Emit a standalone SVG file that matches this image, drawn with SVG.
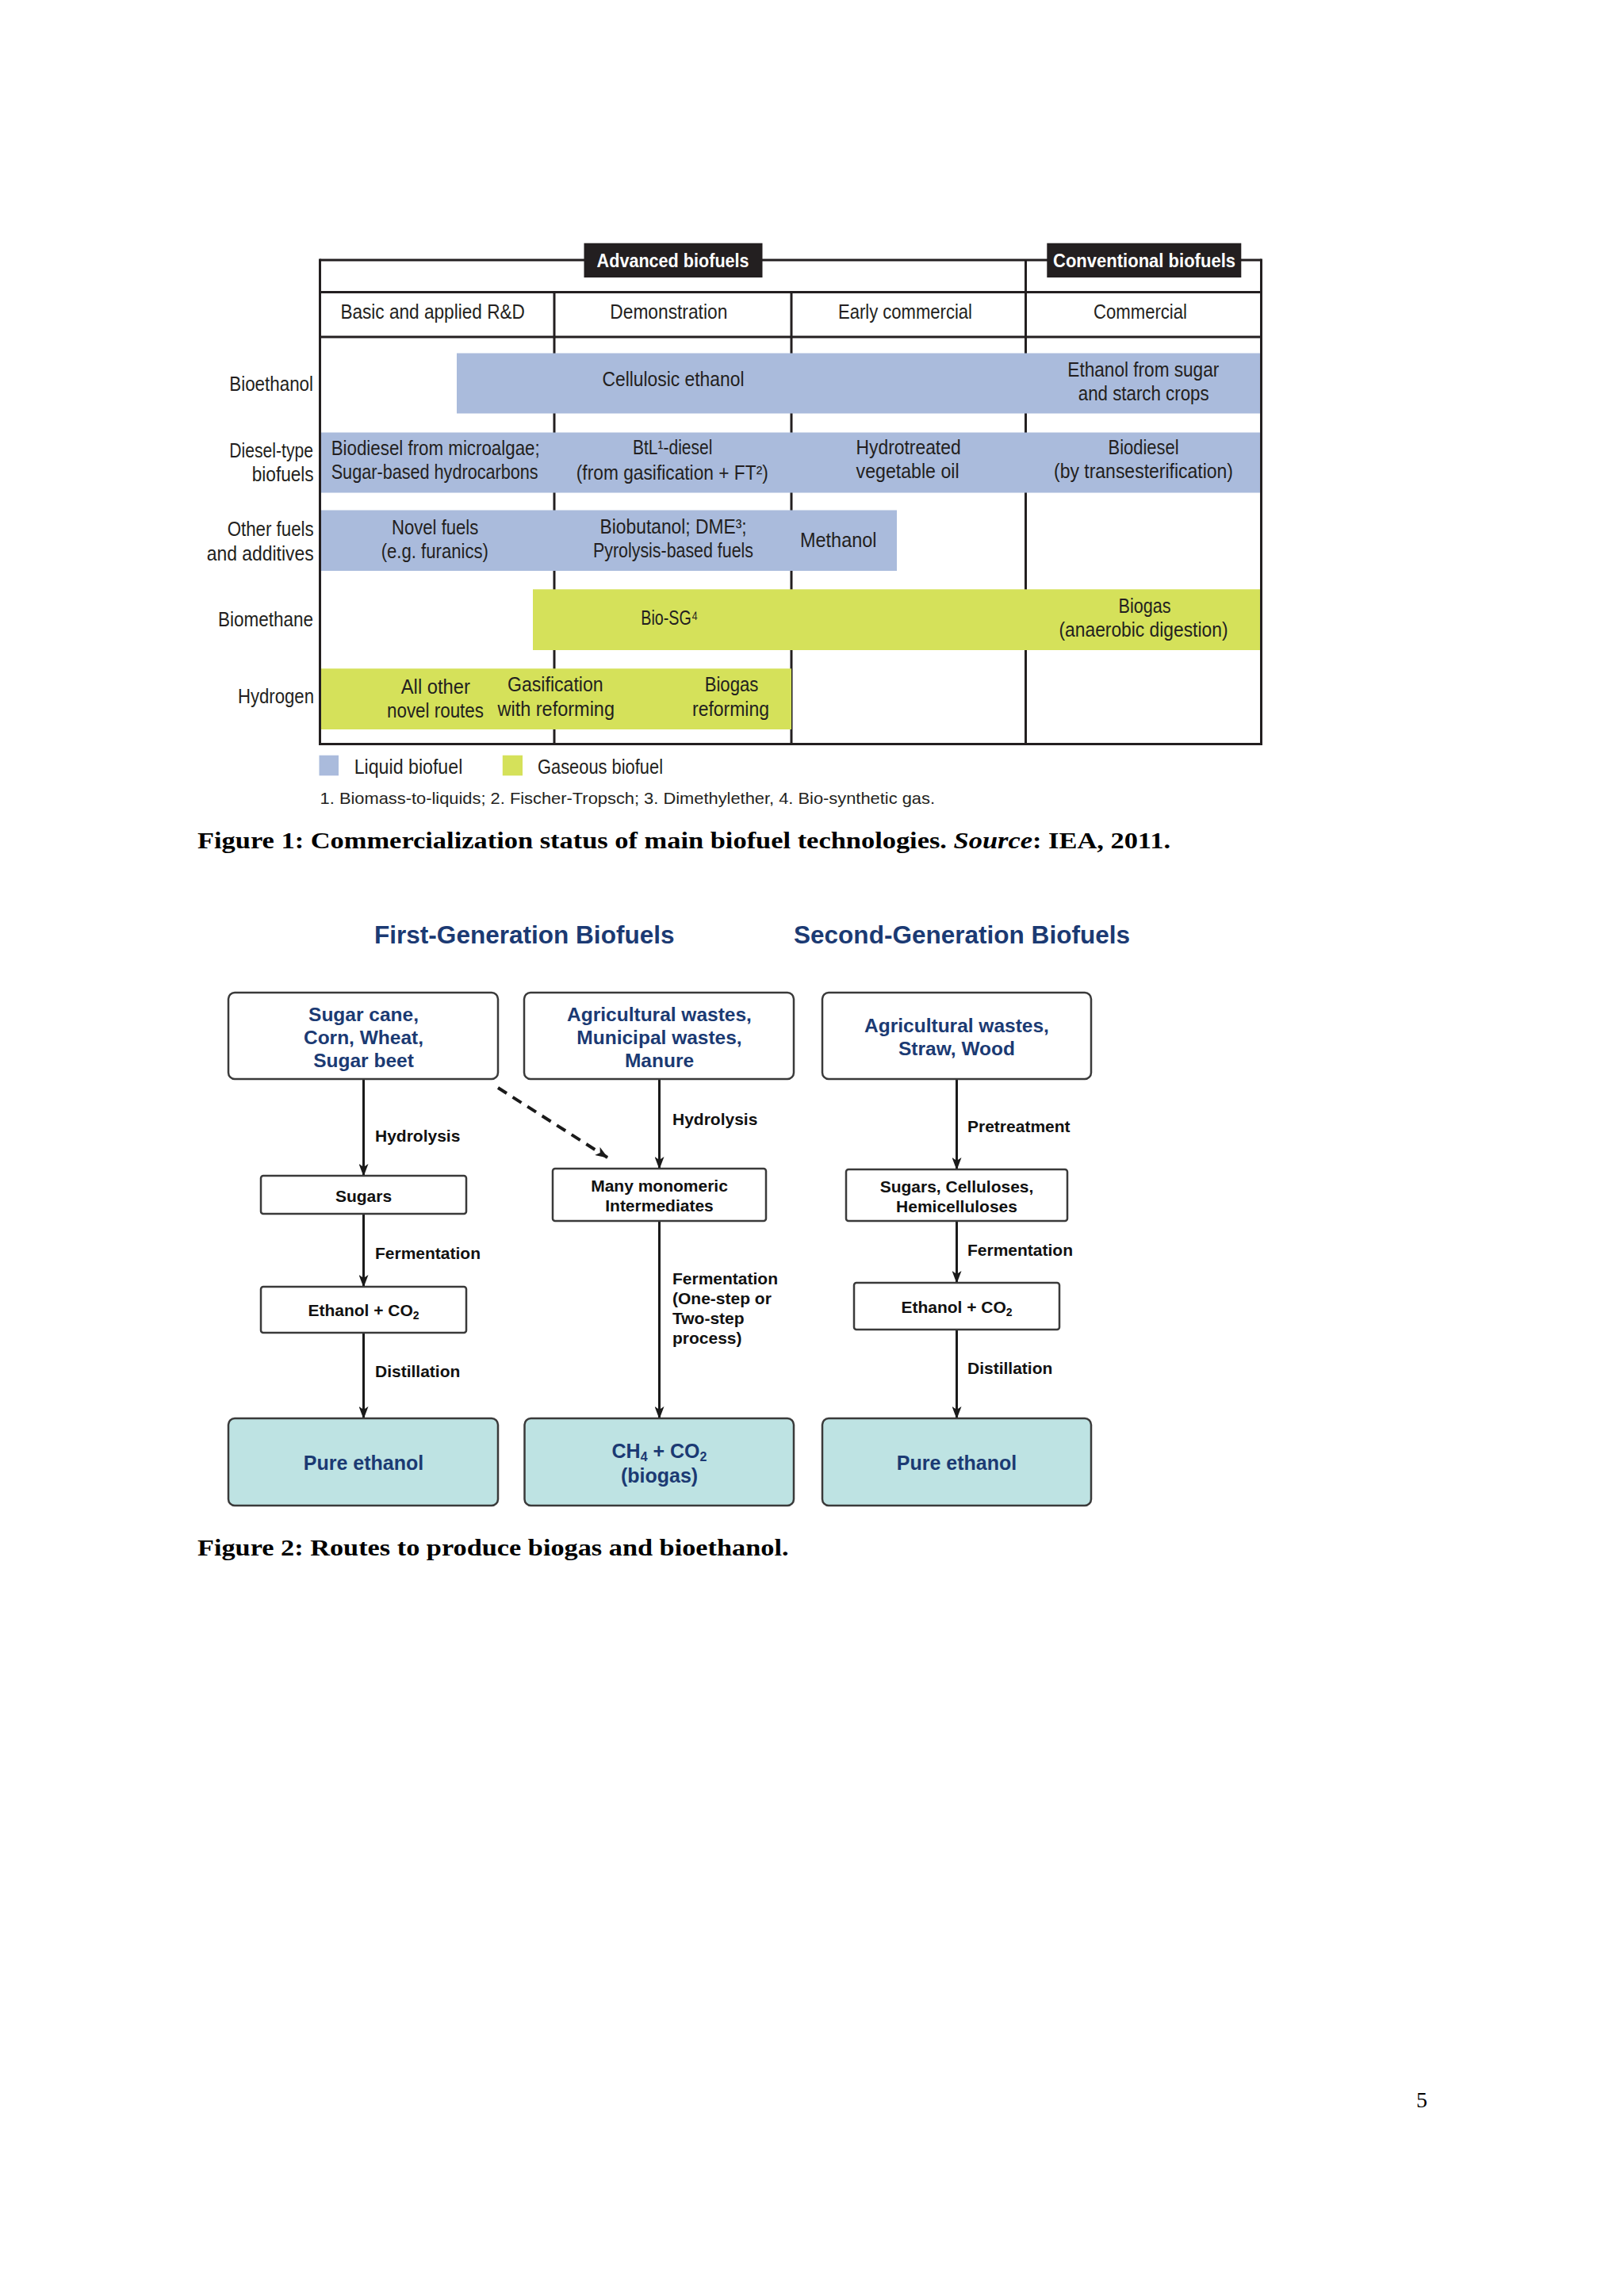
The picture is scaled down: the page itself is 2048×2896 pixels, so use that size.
<svg xmlns="http://www.w3.org/2000/svg" width="2048" height="2896" viewBox="0 0 2048 2896">
<defs>
<style>
.t{font-family:"Liberation Sans",Arial,sans-serif;font-size:25px;fill:#231f20}
.fn{font-family:"Liberation Sans",Arial,sans-serif;font-size:21px;fill:#231f20}
.lb{font-family:"Liberation Sans",Arial,sans-serif;font-size:24px;font-weight:bold;fill:#ffffff}
.ln{stroke:#231f20;stroke-width:3;fill:none}
.liq{fill:#aabbdc}
.gas{fill:#d5e15a}
.cap{font-family:"Liberation Serif","Times New Roman",Times,serif;font-size:30px;font-weight:bold;fill:#000}
.ttl{font-family:"Liberation Sans",Arial,sans-serif;font-size:31.5px;font-weight:bold;fill:#1b3a73}
.nb{font-family:"Liberation Sans",Arial,sans-serif;font-size:24.5px;font-weight:bold;fill:#1b3a73;text-anchor:middle}
.nk{font-family:"Liberation Sans",Arial,sans-serif;font-size:21px;font-weight:bold;fill:#111;text-anchor:middle}
.nr{font-family:"Liberation Sans",Arial,sans-serif;font-size:25px;font-weight:bold;fill:#1b3a73;text-anchor:middle}
.el{font-family:"Liberation Sans",Arial,sans-serif;font-size:21px;font-weight:bold;fill:#111}
.box{fill:#fff;stroke:#3a3a3a;stroke-width:2.5}
.res{fill:#bee3e3;stroke:#3a3a3a;stroke-width:2.5}
.arr{stroke:#1a1a1a;stroke-width:3;fill:none}
.dash{stroke:#1a1a1a;stroke-width:4;fill:none;stroke-dasharray:13 9}
</style>
<marker id="ah" markerUnits="userSpaceOnUse" viewBox="0 0 16 12" refX="15" refY="6" markerWidth="16" markerHeight="12" orient="auto">
<path d="M0,0 L16,6 L0,12 L4,6 z" fill="#1a1a1a"/>
</marker>
</defs>
<rect x="0" y="0" width="2048" height="2896" fill="#ffffff"/>

<!-- ================= FIGURE 1 ================= -->
<g id="fig1-grid">
<line class="ln" x1="403.5" y1="328" x2="1590.5" y2="328"/>
<line class="ln" x1="403.5" y1="368.5" x2="1590.5" y2="368.5"/>
<line class="ln" x1="403.5" y1="425" x2="1590.5" y2="425"/>
<line class="ln" x1="699" y1="368.5" x2="699" y2="938.5"/>
<line class="ln" x1="998" y1="368.5" x2="998" y2="938.5"/>
<line class="ln" x1="1293.5" y1="328" x2="1293.5" y2="938.5"/>
</g>

<g id="fig1-headers">
<text class="t" x="429.4" y="401.7" textLength="232.5" lengthAdjust="spacingAndGlyphs">Basic and applied R&amp;D</text>
<text class="t" x="769.3" y="401.7" textLength="148" lengthAdjust="spacingAndGlyphs">Demonstration</text>
<text class="t" x="1057" y="401.7" textLength="169" lengthAdjust="spacingAndGlyphs">Early commercial</text>
<text class="t" x="1379" y="401.7" textLength="118" lengthAdjust="spacingAndGlyphs">Commercial</text>
</g>

<g id="fig1-rowlabels">
<text class="t" x="289.3" y="492.7" textLength="105.7" lengthAdjust="spacingAndGlyphs">Bioethanol</text>
<text class="t" x="289.3" y="576.7" textLength="105.7" lengthAdjust="spacingAndGlyphs">Diesel-type</text>
<text class="t" x="317.7" y="606.7" textLength="78" lengthAdjust="spacingAndGlyphs">biofuels</text>
<text class="t" x="286.7" y="676" textLength="109" lengthAdjust="spacingAndGlyphs">Other fuels</text>
<text class="t" x="260.7" y="706.7" textLength="135" lengthAdjust="spacingAndGlyphs">and additives</text>
<text class="t" x="275" y="790" textLength="120" lengthAdjust="spacingAndGlyphs">Biomethane</text>
<text class="t" x="300" y="886.7" textLength="96" lengthAdjust="spacingAndGlyphs">Hydrogen</text>
</g>

<g id="row-bioethanol">
<rect class="liq" x="576" y="445.5" width="1013" height="76"/>
<text class="t" x="759.5" y="487.3" textLength="179" lengthAdjust="spacingAndGlyphs">Cellulosic ethanol</text>
<text class="t" x="1346.3" y="475" textLength="191" lengthAdjust="spacingAndGlyphs">Ethanol from sugar</text>
<text class="t" x="1359.8" y="505" textLength="164.8" lengthAdjust="spacingAndGlyphs">and starch crops</text>
</g>

<g id="row-diesel">
<rect class="liq" x="405" y="545.5" width="1184" height="76"/>
<text class="t" x="417.7" y="574" textLength="263" lengthAdjust="spacingAndGlyphs">Biodiesel from microalgae;</text>
<text class="t" x="417.7" y="604" textLength="261" lengthAdjust="spacingAndGlyphs">Sugar-based hydrocarbons</text>
<text class="t" x="798" y="573.3" textLength="100.4" lengthAdjust="spacingAndGlyphs">BtL¹-diesel</text>
<text class="t" x="726.8" y="605" textLength="242" lengthAdjust="spacingAndGlyphs">(from gasification + FT²)</text>
<text class="t" x="1079.6" y="573.3" textLength="132" lengthAdjust="spacingAndGlyphs">Hydrotreated</text>
<text class="t" x="1079.6" y="603.3" textLength="130" lengthAdjust="spacingAndGlyphs">vegetable oil</text>
<text class="t" x="1397.5" y="573.3" textLength="89" lengthAdjust="spacingAndGlyphs">Biodiesel</text>
<text class="t" x="1329" y="603.3" textLength="226" lengthAdjust="spacingAndGlyphs">(by transesterification)</text>
</g>

<g id="row-other">
<rect class="liq" x="405" y="643.5" width="726" height="76.5"/>
<text class="t" x="494" y="674" textLength="109.3" lengthAdjust="spacingAndGlyphs">Novel fuels</text>
<text class="t" x="480.7" y="704" textLength="135.3" lengthAdjust="spacingAndGlyphs">(e.g. furanics)</text>
<text class="t" x="756.6" y="673.3" textLength="185" lengthAdjust="spacingAndGlyphs">Biobutanol; DME³;</text>
<text class="t" x="748" y="703.3" textLength="202" lengthAdjust="spacingAndGlyphs">Pyrolysis-based fuels</text>
<text class="t" x="1009" y="690" textLength="96.5" lengthAdjust="spacingAndGlyphs">Methanol</text>
</g>

<g id="row-biomethane">
<rect class="gas" x="672" y="743.3" width="917" height="76.7"/>
<text class="t" x="808.3" y="788.3" textLength="72" lengthAdjust="spacingAndGlyphs">Bio-SG⁴</text>
<text class="t" x="1410.5" y="773.3" textLength="66" lengthAdjust="spacingAndGlyphs">Biogas</text>
<text class="t" x="1335.5" y="803.3" textLength="213" lengthAdjust="spacingAndGlyphs">(anaerobic digestion)</text>
</g>

<g id="row-hydrogen">
<rect class="gas" x="405" y="843.3" width="593" height="76.7"/>
<text class="t" x="505.8" y="875" textLength="87" lengthAdjust="spacingAndGlyphs">All other</text>
<text class="t" x="488" y="905" textLength="122" lengthAdjust="spacingAndGlyphs">novel routes</text>
<text class="t" x="640" y="871.7" textLength="120.7" lengthAdjust="spacingAndGlyphs">Gasification</text>
<text class="t" x="627.5" y="902.7" textLength="147.5" lengthAdjust="spacingAndGlyphs">with reforming</text>
<text class="t" x="888.7" y="871.7" textLength="67.7" lengthAdjust="spacingAndGlyphs">Biogas</text>
<text class="t" x="873" y="902.7" textLength="97" lengthAdjust="spacingAndGlyphs">reforming</text>
</g>

<g id="fig1-border">
<line class="ln" x1="403.5" y1="326.5" x2="403.5" y2="940"/>
<line class="ln" x1="1590.5" y1="326.5" x2="1590.5" y2="940"/>
<line class="ln" x1="402" y1="938.5" x2="1592" y2="938.5"/>
</g>

<g id="label-advanced">
<rect x="736.5" y="306.7" width="225" height="43.3" fill="#231f20"/>
<text class="lb" x="752.6" y="336.7" textLength="192" lengthAdjust="spacingAndGlyphs">Advanced biofuels</text>
</g>
<g id="label-conventional">
<rect x="1320.3" y="306.7" width="245" height="43.3" fill="#231f20"/>
<text class="lb" x="1328" y="336.7" textLength="230" lengthAdjust="spacingAndGlyphs">Conventional biofuels</text>
</g>

<g id="fig1-legend">
<rect class="liq" x="402.5" y="952.7" width="24.5" height="25.6"/>
<text class="t" x="446.7" y="976" textLength="136.6" lengthAdjust="spacingAndGlyphs">Liquid biofuel</text>
<rect class="gas" x="633.8" y="952.7" width="25.2" height="25.6"/>
<text class="t" x="678" y="976" textLength="158" lengthAdjust="spacingAndGlyphs">Gaseous biofuel</text>
<text class="fn" x="403.6" y="1013.5" textLength="775.4" lengthAdjust="spacingAndGlyphs">1. Biomass-to-liquids; 2. Fischer-Tropsch; 3. Dimethylether, 4. Bio-synthetic gas.</text>
</g>

<text id="caption1" class="cap" x="249" y="1070" textLength="1227" lengthAdjust="spacingAndGlyphs">Figure 1: Commercialization status of main biofuel technologies. <tspan font-style="italic">Source</tspan>: IEA, 2011.</text>

<!-- ================= FIGURE 2 ================= -->
<g id="titles">
<text class="ttl" x="472" y="1190" textLength="378.5" lengthAdjust="spacingAndGlyphs">First-Generation Biofuels</text>
<text class="ttl" x="1001" y="1190" textLength="424" lengthAdjust="spacingAndGlyphs">Second-Generation Biofuels</text>
</g>

<g id="connectors">
<line class="arr" x1="458.5" y1="1361" x2="458.5" y2="1483" marker-end="url(#ah)"/>
<line class="arr" x1="458.5" y1="1531" x2="458.5" y2="1623" marker-end="url(#ah)"/>
<line class="arr" x1="458.5" y1="1681" x2="458.5" y2="1789" marker-end="url(#ah)"/>
<line class="dash" x1="628" y1="1372" x2="766" y2="1460" marker-end="url(#ah)"/>
<line class="arr" x1="831.5" y1="1361" x2="831.5" y2="1474" marker-end="url(#ah)"/>
<line class="arr" x1="831.5" y1="1540" x2="831.5" y2="1789" marker-end="url(#ah)"/>
<line class="arr" x1="1206.5" y1="1361" x2="1206.5" y2="1475" marker-end="url(#ah)"/>
<line class="arr" x1="1206.5" y1="1540" x2="1206.5" y2="1618" marker-end="url(#ah)"/>
<line class="arr" x1="1206.5" y1="1677" x2="1206.5" y2="1789" marker-end="url(#ah)"/>
<text class="el" x="473" y="1440">Hydrolysis</text>
<text class="el" x="473" y="1588">Fermentation</text>
<text class="el" x="473" y="1737">Distillation</text>
<text class="el" x="848" y="1418.7">Hydrolysis</text>
<text class="el" x="848" y="1619.6">Fermentation</text>
<text class="el" x="848" y="1645">(One-step or</text>
<text class="el" x="848" y="1670">Two-step</text>
<text class="el" x="848" y="1695.4">process)</text>
<text class="el" x="1220" y="1428.4">Pretreatment</text>
<text class="el" x="1220" y="1584">Fermentation</text>
<text class="el" x="1220" y="1733">Distillation</text>
</g>

<g id="n-sugarcane">
<rect class="box" x="288" y="1252" width="340" height="109" rx="8"/>
<text class="nb" x="458.5" y="1288">Sugar cane,</text>
<text class="nb" x="458.5" y="1317">Corn, Wheat,</text>
<text class="nb" x="458.5" y="1346">Sugar beet</text>
</g>
<g id="n-agri-municipal">
<rect class="box" x="661" y="1252" width="340" height="109" rx="8"/>
<text class="nb" x="831.5" y="1288">Agricultural wastes,</text>
<text class="nb" x="831.5" y="1317">Municipal wastes,</text>
<text class="nb" x="831.5" y="1346">Manure</text>
</g>
<g id="n-agri-straw">
<rect class="box" x="1037" y="1252" width="339" height="109" rx="8"/>
<text class="nb" x="1206.5" y="1302">Agricultural wastes,</text>
<text class="nb" x="1206.5" y="1331">Straw, Wood</text>
</g>
<g id="n-sugars">
<rect class="box" x="329" y="1483" width="259" height="48" rx="3"/>
<text class="nk" x="458.5" y="1516">Sugars</text>
</g>
<g id="n-monomeric">
<rect class="box" x="697" y="1474" width="269" height="66" rx="3"/>
<text class="nk" x="831.5" y="1503">Many monomeric</text>
<text class="nk" x="831.5" y="1528">Intermediates</text>
</g>
<g id="n-celluloses">
<rect class="box" x="1067" y="1475" width="279" height="65" rx="3"/>
<text class="nk" x="1206.5" y="1503.6">Sugars, Celluloses,</text>
<text class="nk" x="1206.5" y="1529">Hemicelluloses</text>
</g>
<g id="n-ethanol-1">
<rect class="box" x="329" y="1623" width="259" height="58" rx="3"/>
<text class="nk" x="458.5" y="1660">Ethanol + CO<tspan font-size="14" dy="4">2</tspan></text>
</g>
<g id="n-ethanol-2">
<rect class="box" x="1077" y="1618" width="259" height="59" rx="3"/>
<text class="nk" x="1206.5" y="1656">Ethanol + CO<tspan font-size="14" dy="4">2</tspan></text>
</g>
<g id="n-pure-1">
<rect class="res" x="288" y="1789" width="340" height="110" rx="8"/>
<text class="nr" x="458.5" y="1854">Pure ethanol</text>
</g>
<g id="n-biogas">
<rect class="res" x="661.5" y="1789" width="339.5" height="110" rx="8"/>
<text class="nr" x="831.5" y="1839">CH<tspan font-size="16" dy="4">4</tspan><tspan dy="-4"> + CO</tspan><tspan font-size="16" dy="4">2</tspan></text>
<text class="nr" x="831.5" y="1869.5">(biogas)</text>
</g>
<g id="n-pure-2">
<rect class="res" x="1037" y="1789" width="339" height="110" rx="8"/>
<text class="nr" x="1206.5" y="1854">Pure ethanol</text>
</g>

<text id="caption2" class="cap" x="249" y="1962" textLength="745.5" lengthAdjust="spacingAndGlyphs">Figure 2: Routes to produce biogas and bioethanol.</text>

<text id="pagenum" x="1786" y="2658" font-family="'Liberation Serif','Times New Roman',Times,serif" font-size="28" fill="#000">5</text>
</svg>
